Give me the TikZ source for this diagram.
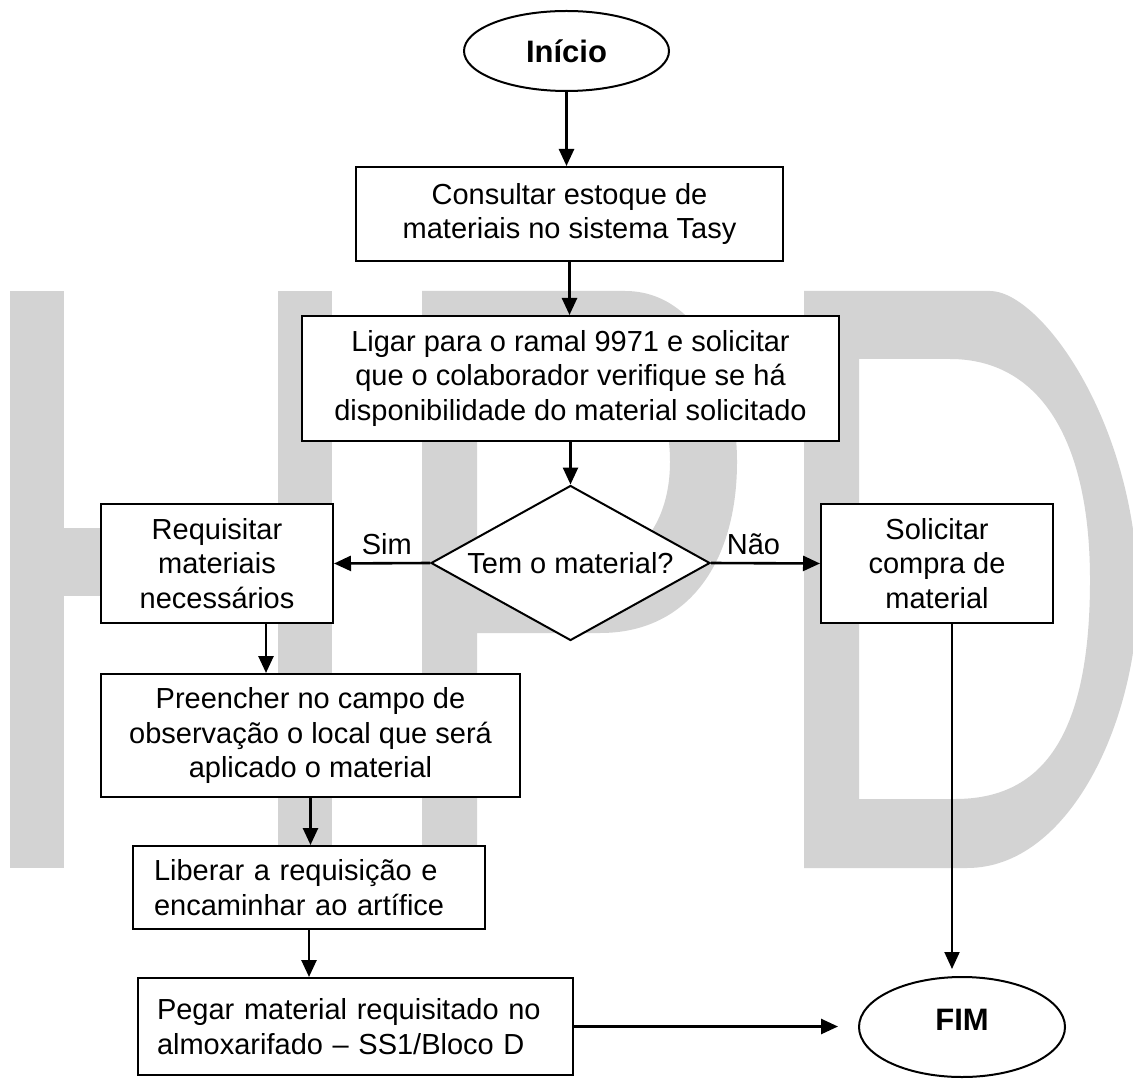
\documentclass[tikz,border=0pt]{standalone}
\usepackage{fontspec}
\setmainfont{Liberation Sans}
\usetikzlibrary{shapes.geometric,arrows.meta,calc}
\definecolor{wmgray}{RGB}{211,211,211}
\newcommand{\myfont}{\fontsize{14.5pt}{17.3pt}\selectfont}
\newcommand{\mybold}{\fontsize{15.5pt}{18pt}\selectfont\bfseries}
\begin{document}
\begin{tikzpicture}[x=0.5pt,y=-0.5pt,
  wm/.style={fill=wmgray},
  sz/.style 2 args={minimum width=#1*0.5pt, minimum height=#2*0.5pt},
  box/.style={draw, line width=1pt, fill=white, inner sep=0pt, align=center, font=\myfont},
  lbox/.style={draw, line width=1pt, fill=white, inner ysep=0pt, align=left, font=\myfont},
  dia/.style={draw, shape=diamond, line width=1pt, fill=white, inner sep=0pt, shape aspect=2.2, font=\myfont},
  term/.style={draw, shape=ellipse, line width=1pt, fill=white, inner sep=0pt, font=\mybold},
  lab/.style={font=\myfont, inner sep=0pt, above=3.5pt},
  arr/.style={-{Triangle[length=8.5pt,width=7.5pt]}, line width=1.3pt}
]
\useasboundingbox (0,0) rectangle (1133,1079);
% watermark HPD
\begin{scope}
\clip (0,0) rectangle (1133,1079);
\fill[wm] (10,291) rectangle (64,868);
\fill[wm] (278,291) rectangle (332,868);
\fill[wm] (64,528) rectangle (278,596);
\fill[wm,even odd rule] (422,291) -- (625,291) .. controls (700,291) and (737,380) .. (737,462)
  .. controls (737,560) and (690,633) .. (600,633) -- (477,633) -- (477,868) -- (422,868) -- cycle
  (477,359) -- (600,359) .. controls (650,359) and (670,410) .. (670,462)
  .. controls (670,520) and (640,565) .. (590,565) -- (477,565) -- cycle;
\fill[wm,even odd rule] (804,291) -- (990,291) .. controls (1040,291) and (1135,420) .. (1138,590)
  .. controls (1138,720) and (1070,868) .. (967,868) -- (804,868) -- cycle
  (859,359) -- (950,359) .. controls (1040,359) and (1090,440) .. (1090,580)
  .. controls (1090,740) and (1040,799) .. (955,799) -- (859,799) -- cycle;
\end{scope}

% nodes
\node[term, sz={205}{80}] (ini) at (566.5,51) {Início};
\node[box, sz={427}{94}] (con) at (569.5,214) {Consultar estoque de\\materiais no sistema Tasy};
\node[box, sz={537}{125}] (lig) at (570.5,378.5) {Ligar para o ramal 9971 e solicitar\\que o colaborador verifique se há\\disponibilidade do material solicitado};
\node[dia, sz={279}{155}] (dia) at (570.5,563) {Tem o material?};
\node[box, sz={232}{119}] (req) at (217,563.5) {Requisitar\\materiais\\necessários};
\node[box, sz={232}{119}] (sol) at (937,563.5) {Solicitar\\compra de\\material};
\node[box, sz={419}{123}] (pre) at (310.5,735.5) {Preencher no campo de\\observação o local que será\\aplicado o material};
\node[lbox, text width=155pt, inner xsep=10.5pt, minimum height=41.5pt] (lib) at (309,887.5) {Liberar a requisição e\\encaminhar ao artífice};
\node[lbox, text width=198.5pt, inner xsep=9.5pt, minimum height=48.5pt] (peg) at (355.5,1026.5) {Pegar material requisitado no\\almoxarifado – SS1/Bloco D};
\node[term, sz={206}{100}, text height=11.1pt, text depth=8pt] (fim) at (962,1027) {FIM};

% connectors
\draw[arr] (ini.south) -- (ini.south |- con.north);
\draw[arr] (con.south) -- (con.south |- lig.north);
\draw[arr] (lig.south) -- (dia.north);
\draw[arr] (dia.west) -- node[lab, pos=0.45] {Sim} (req.east);
\draw[arr] (dia.east) -- node[lab, pos=0.39] {Não} (sol.west);
\coordinate (rq) at ($(req.south)+(49,0)$);
\draw[arr] (rq) -- (rq |- pre.north);
\draw[arr] (pre.south) -- (pre.south |- lib.north);
\draw[arr] (lib.south) -- (lib.south |- peg.north);
\draw[arr, shorten >=10pt] (peg.east) -- (peg.east -| fim.west);
\coordinate (sf) at ($(sol.south)+(15,0)$);
\draw[arr, line width=1pt, shorten >=3.5pt] (sf) -- (sf |- fim.north);
\end{tikzpicture}
\end{document}
